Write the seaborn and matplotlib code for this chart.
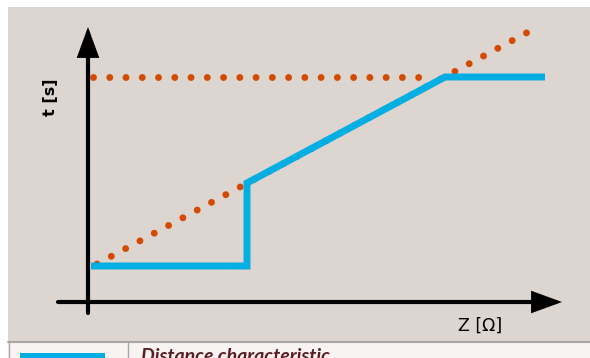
import matplotlib
matplotlib.use("Agg")
import matplotlib.pyplot as plt
import seaborn as sns
import pandas as pd
from matplotlib.patches import Rectangle
from matplotlib.lines import Line2D

# ---- data (Z in arbitrary units, t in arbitrary units) ----
blue_z = [0.03, 1.59, 1.59, 3.57, 4.57]
blue_t = [0.36, 0.36, 1.19, 2.25, 2.25]

orange_flat_z = [0.05, 3.45]
orange_flat_t = [2.25, 2.25]

orange_diag_z = [0.09, 4.42]
orange_diag_t = [0.38, 2.71]

x_label = "Z [Ω]"
y_label = "t [s]"
legend_text = "Distance characteristic"

BLUE = "#03aee3"
ORANGE = "#d44a04"
BEIGE = "#ddd5d0"
LEGBG = "#f8f4f3"
GREY = "#a9a5a5"

sns.set_theme(style="white")
plt.rcParams["font.family"] = ["DejaVu Sans"]

W, H = 590, 358
fig = plt.figure(figsize=(W / 100, H / 100), dpi=100)
fig.patch.set_facecolor("white")

# main chart area in pixels: x 8..590, y 7..341
ax = fig.add_axes([8 / W, (H - 341) / H, 582 / W, 334 / H])
ax.set_facecolor(BEIGE)
ax.set_xlim(-0.80, 5.02)
ax.set_ylim(-0.39, 2.95)
for s in ax.spines.values():
    s.set_visible(False)
ax.set_xticks([])
ax.set_yticks([])

df_flat = pd.DataFrame({"Z": orange_flat_z, "t": orange_flat_t})
df_diag = pd.DataFrame({"Z": orange_diag_z, "t": orange_diag_t})
df_blue = pd.DataFrame({"Z": blue_z, "t": blue_t})

lw_dot = 5.0
for d in (df_flat, df_diag):
    n_before = len(ax.lines)
    sns.lineplot(data=d, x="Z", y="t", ax=ax, color=ORANGE, sort=False,
                 estimator=None, linewidth=lw_dot, zorder=3)
    for ln in ax.lines[n_before:]:
        ln.set_linestyle((0, (0.001, 2.34)))
        ln.set_dash_capstyle("round")

sns.lineplot(data=df_blue, x="Z", y="t", ax=ax, color=BLUE, sort=False,
             estimator=None, linewidth=5.0, zorder=4)
ax.lines[-1].set_solid_joinstyle("miter")
ax.lines[-1].set_solid_capstyle("butt")

# axes with arrows
arrow_kw = dict(arrowstyle="-|>,head_length=0.82,head_width=0.3",
                color="black", lw=3.0, shrinkA=0, shrinkB=0,
                mutation_scale=20, joinstyle="miter")
ax.annotate("", xy=(4.74, 0), xytext=(-0.30, 0), arrowprops=arrow_kw, zorder=5)
ax.annotate("", xy=(0, 2.75), xytext=(0, -0.11), arrowprops=arrow_kw, zorder=5)

ax.text(-0.38, 2.05, y_label, rotation=90, ha="center", va="center",
        fontsize=11.5, fontweight="bold", color="black")
ax.text(3.92, -0.24, x_label, ha="center", va="center",
        fontsize=12.5, color="black")
ax.set_xlabel("")
ax.set_ylabel("")

# legend table strip at bottom
def fx(px):
    return px / W

def fy(py):
    return (H - py) / H

fig.patches.append(Rectangle((fx(8), fy(358)), fx(582), (358 - 341) / H,
                             transform=fig.transFigure, facecolor=LEGBG,
                             edgecolor="none", zorder=1))
fig.lines.append(Line2D([fx(8), fx(590)], [fy(341.5), fy(341.5)],
                        transform=fig.transFigure, color=GREY, lw=1.5, zorder=2))
for px in (8.5, 127.5):
    fig.lines.append(Line2D([fx(px), fx(px)], [fy(341.5), fy(358)],
                            transform=fig.transFigure, color=GREY, lw=1.0, zorder=2))
fig.patches.append(Rectangle((fx(20), fy(361)), fx(85), 8 / H,
                             transform=fig.transFigure, facecolor=BLUE,
                             edgecolor="none", zorder=3))
fig.text(fx(141), fy(362), legend_text, ha="left", va="baseline",
         fontsize=14, fontstyle="italic", fontweight="bold",
         color="#5c1e22", family=["Lato", "DejaVu Sans"])

fig.savefig("out.png", dpi=100, facecolor="white")
